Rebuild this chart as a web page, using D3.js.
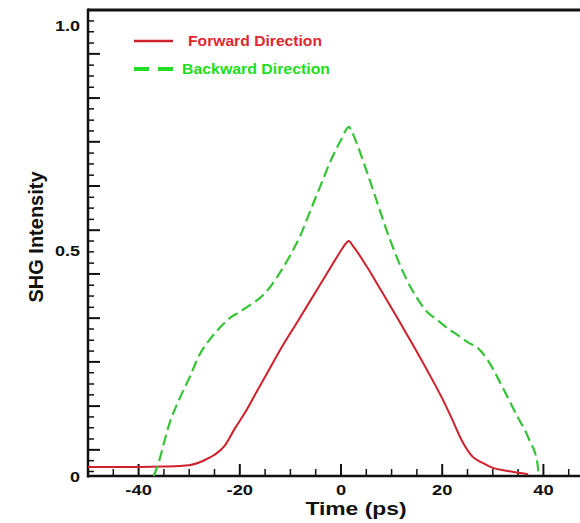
<!DOCTYPE html>
<html>
<head>
<meta charset="utf-8">
<script src="https://cdn.jsdelivr.net/npm/d3@7"></script>
<style>
  html, body { margin: 0; padding: 0; background: #fff; }
  svg { display: block; }
  text { font-family: "Liberation Sans", Arial, sans-serif; font-weight: bold; }
</style>
</head>
<body>
<svg id="chart" width="580" height="523"></svg>
<script>
// Time axis (ps) and SHG intensity for the forward-generated signal
const forwardTime = [-50, -40, -35, -30, -27, -25, -23, -21, -19, -17, -15, -12, -9, -6, -3, -1, 0, 1, 1.5,
  2.5, 5, 8, 11, 14, 17, 20, 22, 24, 26, 28, 30, 33, 35, 37];
const forwardValue = [0.020, 0.020, 0.021, 0.024, 0.035, 0.047, 0.067, 0.105, 0.140, 0.180, 0.220, 0.280, 0.335, 0.390, 0.445, 0.482, 0.500, 0.516, 0.521,
  0.508, 0.466, 0.410, 0.353, 0.295, 0.235, 0.172, 0.125, 0.076, 0.043, 0.029, 0.018, 0.011, 0.007, 0.004];

// Backward-generated signal
const backwardTime = [-37, -36, -35, -34, -32, -30, -28, -26, -24, -22, -20, -18, -16, -14, -12, -10, -8, -6, -4, -2, 0, 1.6,
  2, 3, 5, 7, 9, 11, 13, 15, 17, 19, 21, 23, 25, 27, 29, 31, 33, 35, 36.5, 37.5, 38.3, 38.8, 39.1];
const backwardValue = [0.000, 0.031, 0.073, 0.113, 0.169, 0.217, 0.268, 0.302, 0.328, 0.350, 0.364, 0.379, 0.395, 0.419, 0.452, 0.490, 0.534, 0.590, 0.645, 0.700, 0.745, 0.774,
  0.767, 0.741, 0.678, 0.612, 0.545, 0.486, 0.435, 0.395, 0.364, 0.346, 0.328, 0.313, 0.297, 0.284, 0.257, 0.217, 0.173, 0.129, 0.098, 0.073, 0.053, 0.029, 0.000];

const seriesNames = ["Forward Direction", "Backward Direction"];
const seriesColors = ["#d0202c", "#36c436"];
const legendTextColors = ["#e3262f", "#22dd22"];

// Axis ticks and labels
const xMajorTicks = [-40, -20, 0, 20, 40];
const xMinorTicks = [-45, -35, -30, -25, -15, -10, -5, 5, 10, 15, 25, 30, 35, 45];
const yLabelValues = [0, 0.5, 1.0];
const yLabelText = ["0", "0.5", "1.0"];
const yMajorTicks = [0.058, 0.155, 0.253, 0.350, 0.448, 0.545, 0.643, 0.741, 0.838, 0.936];
const yMinorTicks = [0.010, 0.034, 0.082, 0.107, 0.131, 0.180, 0.204, 0.229, 0.277, 0.301, 0.326,
  0.374, 0.399, 0.423, 0.472, 0.497, 0.521, 0.569, 0.594, 0.618, 0.667, 0.692, 0.716,
  0.765, 0.789, 0.814, 0.862, 0.887, 0.911, 0.960, 0.985, 1.009];

const svg = d3.select("#chart");
const plotLeft = 88, plotBottom = 476, plotTop = 10, plotRight = 594;

const x = d3.scaleLinear().domain([-50, 50]).range([plotLeft, plotRight]);
const y = d3.scaleLinear().domain([0, 1.0]).range([plotBottom, 25]);

// Widen glyphs horizontally to the figure's proportions
function stretch(sel, k) {
  sel.each(function () {
    const w = this.getComputedTextLength();
    d3.select(this).attr("textLength", w * k).attr("lengthAdjust", "spacingAndGlyphs");
  });
}

// Frame: top border, left axis, bottom axis
svg.append("line").attr("x1", plotLeft).attr("x2", 580).attr("y1", plotTop).attr("y2", plotTop)
  .attr("stroke", "#111").attr("stroke-width", 3);
svg.append("line").attr("x1", plotLeft).attr("x2", plotLeft).attr("y1", plotTop - 1.5).attr("y2", plotBottom + 1.5)
  .attr("stroke", "#111").attr("stroke-width", 2.5);
svg.append("line").attr("x1", plotLeft).attr("x2", 580).attr("y1", plotBottom).attr("y2", plotBottom)
  .attr("stroke", "#111").attr("stroke-width", 2.5);

// X ticks point up into the plot
svg.append("g").selectAll("line").data(xMajorTicks).join("line")
  .attr("x1", d => x(d)).attr("x2", d => x(d)).attr("y1", plotBottom).attr("y2", plotBottom - 12)
  .attr("stroke", "#111").attr("stroke-width", 2);
svg.append("g").selectAll("line").data(xMinorTicks).join("line")
  .attr("x1", d => x(d)).attr("x2", d => x(d)).attr("y1", plotBottom).attr("y2", plotBottom - 7)
  .attr("stroke", "#111").attr("stroke-width", 1.5);

// Y ticks point right into the plot
svg.append("g").selectAll("line").data(yMajorTicks).join("line")
  .attr("x1", plotLeft).attr("x2", plotLeft + 12).attr("y1", d => y(d)).attr("y2", d => y(d))
  .attr("stroke", "#111").attr("stroke-width", 2);
svg.append("g").selectAll("line").data(yMinorTicks).join("line")
  .attr("x1", plotLeft).attr("x2", plotLeft + 6).attr("y1", d => y(d)).attr("y2", d => y(d))
  .attr("stroke", "#111").attr("stroke-width", 1.5);

// Tick labels
const xLab = svg.append("g").selectAll("text").data(xMajorTicks).join("text")
  .attr("x", d => x(d)).attr("y", 495).attr("text-anchor", "middle")
  .attr("font-size", 15).attr("fill", "#111").text(d => d);
stretch(xLab, 1.22);

const yLab = svg.append("g").selectAll("text").data(yLabelValues).join("text")
  .attr("x", 80).attr("y", d => y(d) + 5.5).attr("text-anchor", "end")
  .attr("font-size", 15).attr("fill", "#111").text((d, i) => yLabelText[i]);
stretch(yLab, 1.2);

// Axis titles
const xTitle = svg.append("text").attr("x", 356).attr("y", 515).attr("text-anchor", "middle")
  .attr("font-size", 18).attr("fill", "#111").text("Time (ps)");
stretch(xTitle, 1.27);

svg.append("text")
  .attr("transform", "translate(43,237) rotate(-90)")
  .attr("text-anchor", "middle").attr("font-size", 20).attr("fill", "#111")
  .text("SHG Intensity");

// Curves
const line = d3.line().x(d => x(d[0])).y(d => y(d[1])).curve(d3.curveMonotoneX);
const fwd = forwardTime.map((t, i) => [t, forwardValue[i]]);
const bwd = backwardTime.map((t, i) => [t, backwardValue[i]]);

svg.append("path").datum(fwd).attr("d", line)
  .attr("fill", "none").attr("stroke", seriesColors[0]).attr("stroke-width", 2);
svg.append("path").datum(bwd).attr("d", line)
  .attr("fill", "none").attr("stroke", seriesColors[1]).attr("stroke-width", 2.2)
  .attr("stroke-dasharray", "11,5");

// Legend
const legend = svg.append("g");
legend.append("line").attr("x1", 134).attr("x2", 173).attr("y1", 41).attr("y2", 41)
  .attr("stroke", seriesColors[0]).attr("stroke-width", 2.5);
legend.append("line").attr("x1", 134).attr("x2", 173).attr("y1", 69).attr("y2", 69)
  .attr("stroke", legendTextColors[1]).attr("stroke-width", 4).attr("stroke-dasharray", "15,9");
legend.append("text").attr("x", 188).attr("y", 46).attr("font-size", 14)
  .attr("fill", legendTextColors[0]).attr("textLength", 134).attr("lengthAdjust", "spacingAndGlyphs")
  .text(seriesNames[0]);
legend.append("text").attr("x", 182).attr("y", 74).attr("font-size", 14)
  .attr("fill", legendTextColors[1]).attr("textLength", 148).attr("lengthAdjust", "spacingAndGlyphs")
  .text(seriesNames[1]);
</script>
</body>
</html>
